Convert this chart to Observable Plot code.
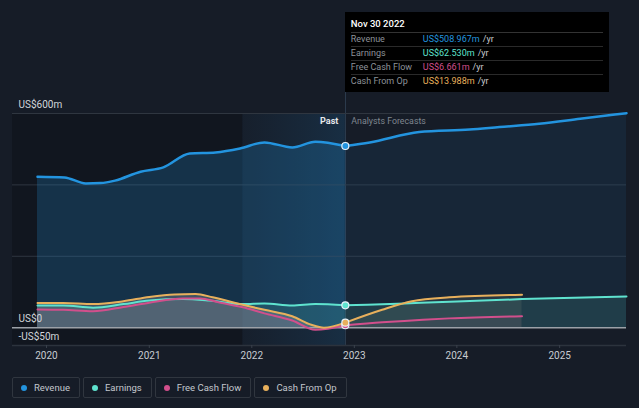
<!DOCTYPE html>
<html>
<head>
<meta charset="utf-8">
<script src="https://cdn.jsdelivr.net/npm/d3@7"></script>
<script src="https://cdn.jsdelivr.net/npm/@observablehq/plot@0.6"></script>
<style>
  html, body { margin: 0; padding: 0; background: #161c27; }
  body { width: 639px; height: 408px; position: relative; overflow: hidden; font-family: Roboto, "Open Sans", sans-serif; }
  #chart { position: absolute; left: 0; top: 0; }
  #tip { position: absolute; background: #000; width: 264px; height: 80px; box-sizing: border-box; padding: 5px 6px 0 6px; font-size: 9px; }
  #tip .hd { color: #fff; font-weight: 500; height: 15px; line-height: 14px; border-bottom: 1px solid #333; font-size: 9.5px; }
  #tip .row { display: flex; height: 13px; line-height: 13px; border-bottom: 1px solid #2a2a2a; color: #8d9299; }
  #tip .row:last-child { border-bottom: none; }
  #tip .lab { width: 72px; }
  #tip .u { color: #c9ccd0; margin-left: 3px; }
  #vline { position: absolute; width: 1px; background: #2b3a4c; }
  #legend { position: absolute; left: 12px; top: 377px; display: flex; gap: 3px; }
  #legend .it { height: 21px; box-sizing: border-box; border: 1px solid #30363f; border-radius: 2px; display: flex; align-items: center; padding: 0 9px 0 8px; color: #c3c7cd; font-size: 9.5px; }
  #legend .dot { width: 6px; height: 6px; border-radius: 50%; margin-right: 7px; }
</style>
</head>
<body>
<div id="vline"></div>
<div id="chart"></div>
<div id="tip"></div>
<div id="legend"></div>
<script>
// ---- data ----
const seriesNames = ["Revenue", "Earnings", "Free Cash Flow", "Cash From Op"];
const seriesColors = ["#2394df", "#5fe3cf", "#d24f8c", "#e8b05c"];

const revPastDates = ["2019-11-30","2020-03-05","2020-05-20","2020-07-12","2020-09-01","2020-12-01","2021-02-20","2021-05-25","2021-08-25","2021-11-20","2022-02-15","2022-05-25","2022-08-15","2022-11-30"];
const revPastVals  = [423, 421, 404, 405, 412, 437, 449, 488, 491, 502, 519, 505, 521, 509];
const revFcDates   = ["2022-11-30","2023-02-25","2023-08-20","2024-02-15","2024-06-01","2024-10-20","2025-03-15","2025-08-27"];
const revFcVals    = [509, 519, 548, 555, 562, 571, 585, 601];

const earnPastDates = ["2019-11-30","2020-03-01","2020-06-15","2020-10-01","2021-01-01","2021-05-01","2021-08-01","2021-11-30","2022-02-15","2022-05-25","2022-08-15","2022-11-30"];
const earnPastVals  = [62, 62, 56, 66, 76, 80, 76, 66, 68, 62, 66, 62.5];
const earnFcDates   = ["2022-11-30","2023-06-30","2024-01-01","2024-08-20","2025-08-27"];
const earnFcVals    = [62.5, 68, 73, 80, 87];

const fcfPastDates = ["2019-11-30","2020-03-01","2020-06-15","2020-10-01","2021-01-01","2021-05-01","2021-07-01","2021-09-01","2021-11-30","2022-02-15","2022-05-25","2022-08-15","2022-11-30"];
const fcfPastVals  = [51, 50, 46, 58, 70, 82, 82, 72, 57, 40, 20, -6, 6.7];
const fcfFcDates   = ["2022-11-30","2023-04-10","2023-07-25","2023-12-05","2024-08-20"];
const fcfFcVals    = [6.7, 15, 20, 26, 32];

const cfoPastDates = ["2019-11-30","2020-03-01","2020-06-15","2020-10-01","2021-01-01","2021-04-01","2021-06-15","2021-08-15","2021-11-30","2022-02-15","2022-05-25","2022-08-01","2022-09-15","2022-11-30"];
const cfoPastVals  = [69, 69, 66, 74, 86, 93, 94, 85, 64, 50, 32, 8, 0, 14];
const cfoFcDates   = ["2022-11-30","2023-04-10","2023-07-25","2023-12-05","2024-08-20"];
const cfoFcVals    = [14, 50, 74, 85, 92];

const yTickVals   = [600, 400, 200];
const yLabelVals  = [600, 0, -50];
const yLabelTexts = ["US$600m", "US$0", "-US$50m"];

const tipDate = "2022-11-30";
const tipTitle = "Nov 30 2022";
const tipValues = ["US$508.967m", "US$62.530m", "US$6.661m", "US$13.988m"];

const xStart = "2019-09-02", xEnd = "2025-08-27";
const bandStart = "2021-11-30";

// ---- build ----
const P = d3.timeParse("%Y-%m-%d");
const tbl = (ds, vs) => ds.map((d, i) => ({date: P(d), value: vs[i]}));
const revPast = tbl(revPastDates, revPastVals), revFc = tbl(revFcDates, revFcVals);
const earnPast = tbl(earnPastDates, earnPastVals), earnFc = tbl(earnFcDates, earnFcVals);
const fcfPast = tbl(fcfPastDates, fcfPastVals), fcfFc = tbl(fcfFcDates, fcfFcVals);
const cfoPast = tbl(cfoPastDates, cfoPastVals), cfoFc = tbl(cfoFcDates, cfoFcVals);
const [cRev, cEarn, cFcf, cCfo] = seriesColors;
const curve = "monotone-x";
const tD = P(tipDate);
const dots = [
  {date: tD, value: fcfPastVals[fcfPastVals.length-1], c: cFcf},
  {date: tD, value: cfoPastVals[cfoPastVals.length-1], c: cCfo},
  {date: tD, value: earnPastVals[earnPastVals.length-1], c: cEarn},
  {date: tD, value: revPastVals[revPastVals.length-1], c: cRev}
];

const bandGrad = () => {
  const svg = d3.create("svg:defs");
  const g = svg.append("linearGradient").attr("id", "bandg").attr("x1", "0").attr("x2", "1").attr("y1", "0").attr("y2", "0");
  g.append("stop").attr("offset", "0").attr("stop-color", "#1e5f8f").attr("stop-opacity", 0.05);
  g.append("stop").attr("offset", "1").attr("stop-color", "#1e6fa8").attr("stop-opacity", 0.22);
  return svg.node();
};

const plot = Plot.plot({
  width: 639, height: 365,
  marginTop: 113, marginBottom: 20, marginLeft: 12, marginRight: 13,
  style: {background: "transparent", color: "#c8ccd2", fontFamily: "Roboto, sans-serif", fontSize: "10px"},
  x: {type: "time", domain: [P(xStart), P(xEnd)], axis: null},
  y: {domain: [-50, 600], axis: null},
  marks: [
    bandGrad,
    Plot.rectY([{x1: P(xStart), x2: P(bandStart)}], {x1: "x1", x2: "x2", y1: -50, y2: 600, fill: "#0f131b", fillOpacity: 0.6}),
    Plot.rectY([{x1: P(bandStart), x2: tD}], {x1: "x1", x2: "x2", y1: -50, y2: 600, fill: "url(#bandg)"}),
    Plot.ruleY(yTickVals, {stroke: "#2f3640", strokeWidth: 1}),
    Plot.ruleY([-50], {stroke: "#2c333d", strokeWidth: 1.5}),
    Plot.areaY(revPast, {x: "date", y: "value", curve, fill: cRev, fillOpacity: 0.22}),
    Plot.areaY(revFc, {x: "date", y: "value", curve, fill: cRev, fillOpacity: 0.09}),
    Plot.areaY(earnPast, {x: "date", y: "value", curve, fill: cEarn, fillOpacity: 0.14}),
    Plot.areaY(earnFc, {x: "date", y: "value", curve, fill: cEarn, fillOpacity: 0.12}),
    Plot.areaY(cfoPast, {x: "date", y: "value", curve, fill: "#d8c8c0", fillOpacity: 0.22}),
    Plot.areaY(cfoFc, {x: "date", y: "value", curve, fill: "#c8c0a0", fillOpacity: 0.1}),
    Plot.areaY(fcfPast, {x: "date", y: "value", curve, fill: cFcf, fillOpacity: 0.08}),
    Plot.areaY(fcfFc, {x: "date", y: "value", curve, fill: cFcf, fillOpacity: 0.06}),
    Plot.ruleY([0], {stroke: "#9ca1a8", strokeWidth: 1.5}),
    Plot.line(earnPast, {x: "date", y: "value", curve, stroke: cEarn, strokeWidth: 2}),
    Plot.line(earnFc, {x: "date", y: "value", curve, stroke: cEarn, strokeWidth: 2}),
    Plot.line(fcfPast, {x: "date", y: "value", curve, stroke: cFcf, strokeWidth: 2}),
    Plot.line(fcfFc, {x: "date", y: "value", curve, stroke: cFcf, strokeWidth: 2}),
    Plot.line(cfoPast, {x: "date", y: "value", curve, stroke: cCfo, strokeWidth: 2}),
    Plot.line(cfoFc, {x: "date", y: "value", curve, stroke: cCfo, strokeWidth: 2}),
    Plot.line(revPast, {x: "date", y: "value", curve, stroke: cRev, strokeWidth: 2.5}),
    Plot.line(revFc, {x: "date", y: "value", curve, stroke: cRev, strokeWidth: 2.5}),
    Plot.dot(dots, {x: "date", y: "value", fill: "c", stroke: "#e8f2fa", strokeWidth: 1.2, r: 3.5}),
    Plot.text([tD], {x: d => d, y: 600, text: () => "Past", textAnchor: "end", dx: -7, dy: 8, fill: "#e6e8eb", fontWeight: "bold", fontSize: 9}),
    Plot.text([tD], {x: d => d, y: 600, text: () => "Analysts Forecasts", textAnchor: "start", dx: 6, dy: 8, fill: "#7f868f", fontSize: 8.8}),
    Plot.text(yLabelVals, {y: d => d, text: (d, i) => yLabelTexts[i], frameAnchor: "left", textAnchor: "start", dx: 6, dy: -9, fill: "#d3d6db", fontSize: 10}),
    Plot.axisX({ticks: d3.timeYear.every(1), tickFormat: "%Y", tickSize: 3, tickPadding: 3, stroke: "#3a414c", fill: "#c8ccd2", fontSize: 10})
  ]
});
document.getElementById("chart").appendChild(plot);

const xs = plot.scale("x"), ys = plot.scale("y");
const tx = xs.apply(tD);
const tip = document.getElementById("tip");
tip.style.left = tx + "px";
tip.style.top = "12px";
let html = `<div class="hd">${tipTitle}</div>`;
seriesNames.forEach((n, i) => {
  html += `<div class="row"><span class="lab">${n}</span><span style="color:${seriesColors[i]}">${tipValues[i]}</span><span class="u">/yr</span></div>`;
});
tip.innerHTML = html;
const vl = document.getElementById("vline");
vl.style.left = Math.round(tx) + "px";
vl.style.top = "92px";
vl.style.height = (ys.apply(-50) - 92) + "px";

const leg = document.getElementById("legend");
seriesNames.forEach((n, i) => {
  const d = document.createElement("div");
  d.className = "it";
  d.innerHTML = `<span class="dot" style="background:${seriesColors[i]}"></span>${n}`;
  leg.appendChild(d);
});
</script>
</body>
</html>
